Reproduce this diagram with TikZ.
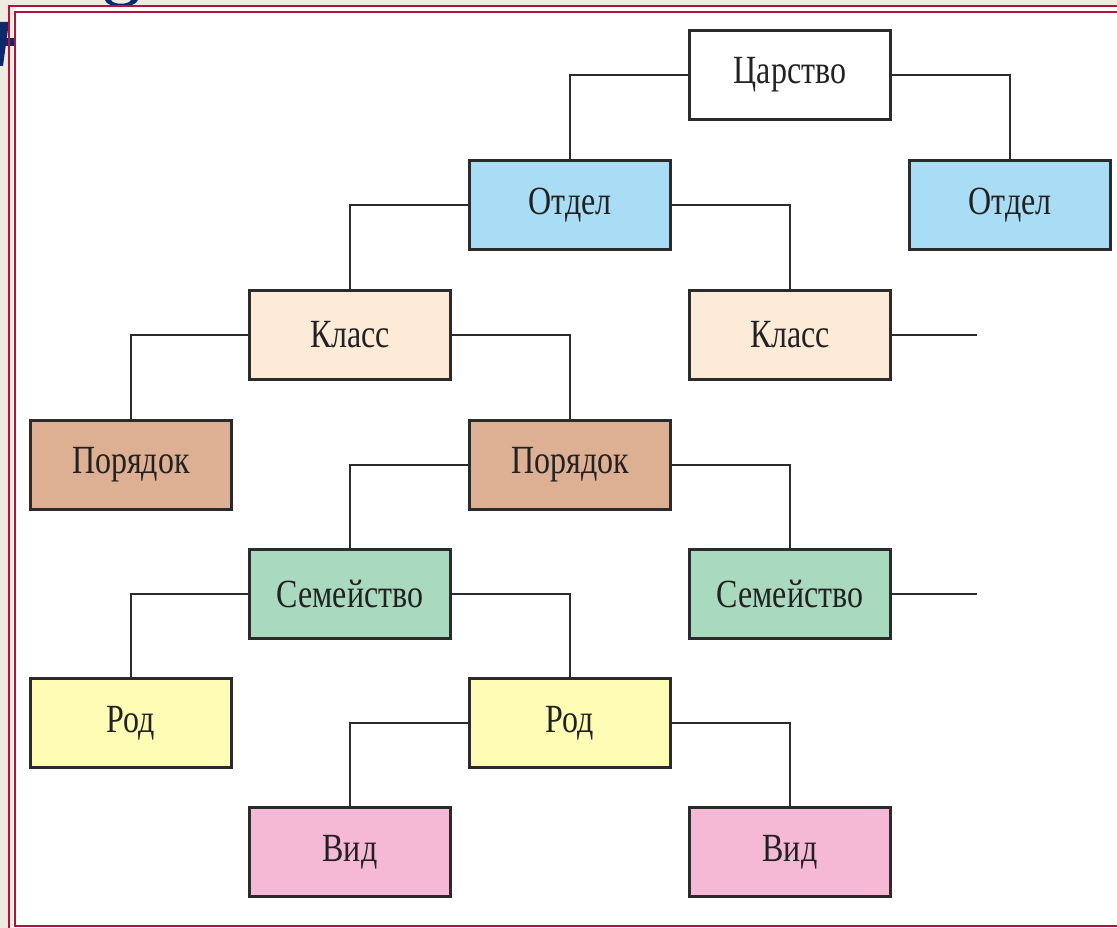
\documentclass[tikz,border=0pt]{standalone}
\usepackage{fontspec}
\newfontfamily\condserif[FakeStretch=0.80]{Liberation Serif}
\definecolor{bgbeige}{HTML}{EEEBE1}
\definecolor{framered}{HTML}{B5123A}
\definecolor{navy}{HTML}{0B2A6B}
\definecolor{cBlue}{HTML}{A8DDF5}
\definecolor{cPeach}{HTML}{FDEBD8}
\definecolor{cBrown}{HTML}{DDB094}
\definecolor{cGreen}{HTML}{A9D9BF}
\definecolor{cYellow}{HTML}{FFFCB5}
\definecolor{cPink}{HTML}{F5B8D5}
\definecolor{lineGray}{HTML}{2B2B2B}
\definecolor{txt}{HTML}{222222}
\tikzset{
  taxbox/.style={draw=lineGray, line width=2.5pt, minimum width=201pt, minimum height=89pt,
    inner sep=0pt, font=\condserif\fontsize{40}{44}\selectfont, text=txt},
  link/.style={draw=lineGray, line width=2.4pt},
  frameline/.style={draw=framered, line width=2.6pt}
}
\begin{document}
\begin{tikzpicture}[x=1pt,y=-1pt]
\useasboundingbox (0,0) rectangle (1117,928);
\fill[bgbeige] (0,0) rectangle (1117,928);
\fill[white] (10,7) rectangle (1117,928);
\fill[bgbeige] (10,7) rectangle (13,928);
% title fragments
\fill[navy] (0,22) -- (9,22) -- (3,66) -- (0,66) -- cycle;
\fill[navy] (0,38) rectangle (14,46);
\fill[navy] (105,0) .. controls (107,9) and (135,9) .. (138,0) -- (131,0) .. controls (129,5) and (113,5) .. (111,0) -- cycle;
% frame
\draw[frameline] (1120,6) -- (9,6) -- (9,932);
\draw[frameline] (1120,12) -- (15,12) -- (15,926) -- (1120,926);
% nodes
\node[taxbox, fill=white]   (k)   at (790,75)  {Царство};
\node[taxbox, fill=cBlue]   (o1)  at (570,205) {Отдел};
\node[taxbox, fill=cBlue]   (o2)  at (1010,205) {Отдел};
\node[taxbox, fill=cPeach]  (c1)  at (350,335) {Класс};
\node[taxbox, fill=cPeach]  (c2)  at (790,335) {Класс};
\node[taxbox, fill=cBrown]  (p1)  at (131,465) {Порядок};
\node[taxbox, fill=cBrown]  (p2)  at (570,465) {Порядок};
\node[taxbox, fill=cGreen]  (s1)  at (350,594) {Семейство};
\node[taxbox, fill=cGreen]  (s2)  at (790,594) {Семейство};
\node[taxbox, fill=cYellow] (r1)  at (131,723) {Род};
\node[taxbox, fill=cYellow] (r2)  at (570,723) {Род};
\node[taxbox, fill=cPink]   (v1)  at (350,852) {Вид};
\node[taxbox, fill=cPink]   (v2)  at (790,852) {Вид};
\coordinate (c2end) at (977,335);
\coordinate (s2end) at (977,594);
% connectors
\draw[link] (k.west) -| (o1.north);
\draw[link] (k.east) -| (o2.north);
\draw[link] (o1.west) -| (c1.north);
\draw[link] (o1.east) -| (c2.north);
\draw[link] (c1.west) -| (p1.north);
\draw[link] (c1.east) -| (p2.north);
\draw[link] (c2.east) -- (c2end);
\draw[link] (p2.west) -| (s1.north);
\draw[link] (p2.east) -| (s2.north);
\draw[link] (s1.west) -| (r1.north);
\draw[link] (s1.east) -| (r2.north);
\draw[link] (s2.east) -- (s2end);
\draw[link] (r2.west) -| (v1.north);
\draw[link] (r2.east) -| (v2.north);
\end{tikzpicture}
\end{document}
